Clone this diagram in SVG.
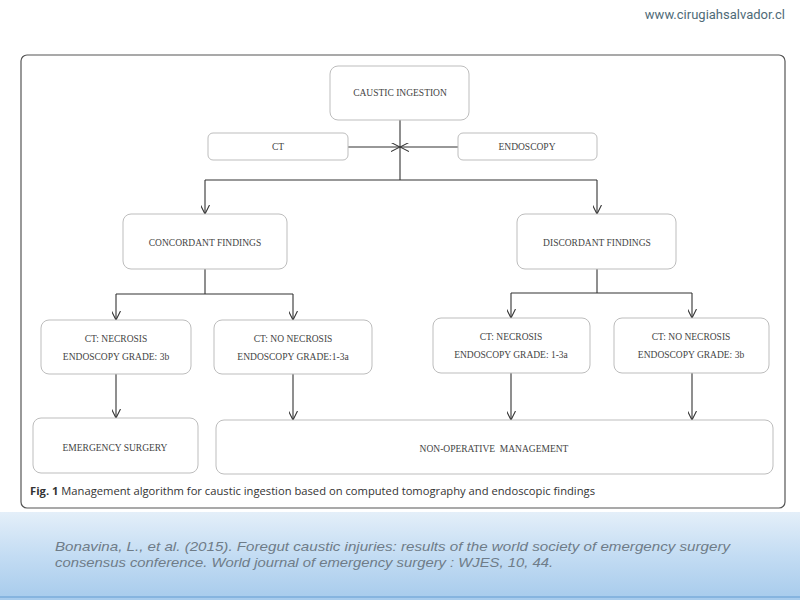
<svg xmlns="http://www.w3.org/2000/svg" width="800" height="600" viewBox="0 0 800 600">
<defs>
<linearGradient id="bg" x1="0" y1="0" x2="0" y2="1">
<stop offset="0" stop-color="#e4eff9"/>
<stop offset="0.5" stop-color="#c3dcf3"/>
<stop offset="1" stop-color="#a7cbec"/>
</linearGradient>
<marker id="arr" viewBox="0 0 10 10" refX="10" refY="5" markerWidth="9" markerHeight="9" markerUnits="userSpaceOnUse" orient="auto">
<path d="M0,0 L10,5 L0,10" fill="none" stroke="#333" stroke-width="1.2"/>
</marker>
<style>
.n{fill:#fff;stroke:#bdbdbd;stroke-width:1}
.t{font-family:"Liberation Serif","Times New Roman",serif;font-size:9.5px;fill:#444;text-anchor:middle;dominant-baseline:central}
.c{fill:none;stroke:#333;stroke-width:1.1}
.cit{font-family:"Liberation Sans",Arial,sans-serif;font-style:italic;font-size:13px;fill:#6f7c88}
</style>
</defs>
<rect x="0" y="0" width="800" height="600" fill="#fff"/>
<rect x="0" y="512" width="800" height="88" fill="url(#bg)"/>
<line x1="0" y1="597" x2="800" y2="597" stroke="#86b4df" stroke-width="2"/>
<text x="785" y="19" font-family="Roboto,'Liberation Sans',sans-serif" font-size="13" fill="#4f6b78" text-anchor="end">www.cirugiahsalvador.cl</text>
<rect x="21" y="55" width="764" height="453" rx="6" fill="#fff" stroke="#555" stroke-width="1.2"/>

<g id="connectors">
<line class="c" x1="400" y1="120" x2="400" y2="180"/>
<line class="c" x1="348" y1="147" x2="400" y2="147" marker-end="url(#arr)"/>
<line class="c" x1="458" y1="147" x2="400" y2="147" marker-end="url(#arr)"/>
<line class="c" x1="205" y1="180" x2="597" y2="180"/>
<line class="c" x1="205" y1="180" x2="205" y2="214" marker-end="url(#arr)"/>
<line class="c" x1="597" y1="180" x2="597" y2="214" marker-end="url(#arr)"/>
<line class="c" x1="205" y1="269" x2="205" y2="294"/>
<line class="c" x1="116" y1="294" x2="293" y2="294"/>
<line class="c" x1="116" y1="294" x2="116" y2="320" marker-end="url(#arr)"/>
<line class="c" x1="293" y1="294" x2="293" y2="320" marker-end="url(#arr)"/>
<line class="c" x1="597" y1="269" x2="597" y2="293"/>
<line class="c" x1="511" y1="293" x2="692" y2="293"/>
<line class="c" x1="511" y1="293" x2="511" y2="318" marker-end="url(#arr)"/>
<line class="c" x1="692" y1="293" x2="692" y2="318" marker-end="url(#arr)"/>
<line class="c" x1="116" y1="374" x2="116" y2="418" marker-end="url(#arr)"/>
<line class="c" x1="293" y1="374" x2="293" y2="420" marker-end="url(#arr)"/>
<line class="c" x1="511" y1="373" x2="511" y2="420" marker-end="url(#arr)"/>
<line class="c" x1="692" y1="373" x2="692" y2="420" marker-end="url(#arr)"/>
</g>

<g id="caustic"><rect class="n" x="330" y="66" width="139" height="54" rx="8"/><text class="t" x="400" y="93">CAUSTIC INGESTION</text></g>
<g id="ct"><rect class="n" x="208" y="133" width="140" height="27" rx="5"/><text class="t" x="278" y="147">CT</text></g>
<g id="endoscopy"><rect class="n" x="458" y="133" width="139" height="27" rx="5"/><text class="t" x="527" y="147">ENDOSCOPY</text></g>
<g id="concordant"><rect class="n" x="123" y="214" width="164" height="55" rx="8"/><text class="t" x="205" y="243">CONCORDANT FINDINGS</text></g>
<g id="discordant"><rect class="n" x="517" y="214" width="159" height="55" rx="8"/><text class="t" x="597" y="243">DISCORDANT FINDINGS</text></g>
<g id="c-necrosis"><rect class="n" x="41" y="320" width="150" height="54" rx="8"/><text class="t" x="116" y="339">CT: NECROSIS</text><text class="t" x="116" y="357">ENDOSCOPY GRADE: 3b</text></g>
<g id="c-nonecrosis"><rect class="n" x="214" y="320" width="158" height="54" rx="8"/><text class="t" x="293" y="339">CT: NO NECROSIS</text><text class="t" x="293" y="357">ENDOSCOPY GRADE:1-3a</text></g>
<g id="d-necrosis"><rect class="n" x="433" y="318" width="157" height="55" rx="8"/><text class="t" x="511" y="337">CT: NECROSIS</text><text class="t" x="511" y="355">ENDOSCOPY GRADE: 1-3a</text></g>
<g id="d-nonecrosis"><rect class="n" x="614" y="318" width="155" height="55" rx="8"/><text class="t" x="691" y="337">CT: NO NECROSIS</text><text class="t" x="691" y="355">ENDOSCOPY GRADE: 3b</text></g>
<g id="emergency"><rect class="n" x="33" y="418" width="165" height="55" rx="8"/><text class="t" x="115" y="448">EMERGENCY SURGERY</text></g>
<g id="nonop"><rect class="n" x="216" y="420" width="557" height="54" rx="8"/><text class="t" x="494" y="449" xml:space="preserve">NON-OPERATIVE  MANAGEMENT</text></g>

<text x="30" y="495" font-family="'Open Sans','Liberation Sans',sans-serif" font-size="11" fill="#333" textLength="565" lengthAdjust="spacingAndGlyphs"><tspan font-weight="bold">Fig. 1</tspan> Management algorithm for caustic ingestion based on computed tomography and endoscopic findings</text>

<text class="cit" x="55" y="551" textLength="675" lengthAdjust="spacingAndGlyphs">Bonavina, L., et al. (2015). Foregut caustic injuries: results of the world society of emergency surgery</text>
<text class="cit" x="55" y="567" textLength="498" lengthAdjust="spacingAndGlyphs">consensus conference. World journal of emergency surgery : WJES, 10, 44.</text>
</svg>
